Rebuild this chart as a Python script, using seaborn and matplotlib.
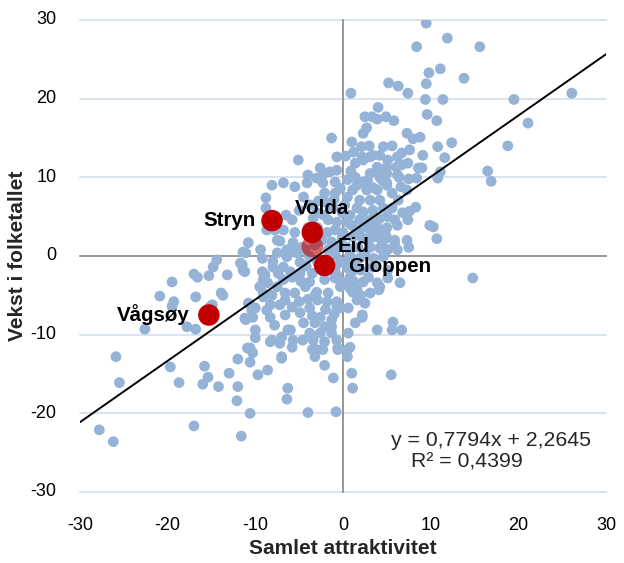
import numpy as np
import pandas as pd
import matplotlib
matplotlib.use("Agg")
import matplotlib.pyplot as plt
import seaborn as sns
from matplotlib.transforms import blended_transform_factory

# ---------------- data (Samlet attraktivitet, Vekst i folketallet) ----------------
far_left = [(-27.8, -22.1), (-26.2, -23.6), (-25.9, -12.8), (-25.5, -16.1), (-22.6, -9.3),
            (-20.9, -5.1), (-19.7, -14.1), (-18.7, -16.1), (-19.5, -3.3), (-19.3, -5.8),
            (-19.5, -6.4), (-17.8, -9.0), (-16.8, -9.3), (-16.8, -5.2), (-17.0, -2.3),
            (-16.6, -2.7), (-15.3, -2.5), (-14.8, -1.4), (-14.4, -0.5), (-13.9, -4.7),
            (-13.7, -5.0), (-14.9, -6.2), (-15.2, -6.5), (-13.2, -2.4), (-11.5, -1.1),
            (-11.2, -2.0), (-11.1, 0.4), (-10.8, 1.7), (-17.0, -21.6), (-11.6, -22.9),
            (-12.1, -18.4), (-12.0, -16.6), (-14.2, -16.6), (-15.4, -15.4), (-16.0, -16.3),
            (-15.8, -14.0), (-13.0, -14.9), (-12.0, -13.1), (-10.9, -11.7), (-10.6, -20.0),
            (-11.1, -8.1), (-11.4, 0.5), (-11.7, -0.9), (-11.4, -1.8), (-10.8, -6.0),
            (-10.4, -6.9), (-10.6, -6.2), (-10.0, -6.6), (-11.2, -7.9), (-10.3, -7.8),
            (-10.6, -11.7), (-10.3, -12.3), (-10.6, -13.5)]

left_center = [(-8.8, 7.4), (-8.8, 6.1), (-8.7, 3.3), (-7.5, 2.0), (-9.4, 0.8), (-9.2, -0.3),
               (-9.2, -2.0), (-9.1, -3.0), (-8.6, -3.4), (-9.1, -5.2), (-8.1, -5.0), (-8.3, -6.2),
               (-7.4, -2.2), (-7.5, -3.9), (-9.5, -3.9), (-9.1, -4.7), (-10.0, -9.4), (-10.0, -10.4),
               (-8.3, -10.9), (-7.0, -10.3), (-6.0, -9.4), (-5.7, -10.7), (-5.8, -11.6), (-9.7, -15.1),
               (-8.6, -14.5), (-7.0, -13.0), (-6.3, -16.8), (-6.4, -18.2), (-8.0, -0.7), (-8.9, -2.4),
               (-6.8, -3.0), (-5.8, -2.7), (-8.7, -6.9), (-8.3, -7.8), (-7.8, -8.8), (-6.6, -5.6),
               (-5.8, -6.5), (-6.3, -9.4), (-8.1, -10.7), (-7.2, -11.1), (-7.0, -12.8), (-5.5, -4.7),
               (-6.6, -4.7), (-6.8, 9.3), (-5.5, 8.8), (-8.1, 9.0), (-5.8, 4.6), (-7.8, 3.3),
               (-6.8, 3.3), (-5.5, 3.0), (-6.4, 0.8), (-5.7, 1.7), (-5.2, 0.4), (-7.5, 0.4),
               (-7.2, 1.9), (-5.1, 12.2), (-6.4, -0.1), (-5.5, 0.5), (-6.8, -1.4), (-8.0, -1.4),
               (-6.6, -7.5), (-7.2, -6.2), (-6.0, -2.0), (-5.0, 5.8), (-6.5, 5.2)]

center_left = [(-4.0, -19.9), (-2.1, -13.9), (-1.1, -15.5), (-3.5, -11.9), (-3.0, -11.9),
               (-0.6, -11.9), (-3.2, -12.8), (-4.9, -2.2), (-3.8, -3.3), (-2.1, -3.0), (-0.9, -2.8),
               (-0.3, -3.9), (-4.9, -7.2), (-3.8, -6.6), (-2.9, -5.6), (-1.8, -5.8), (-0.7, -6.5),
               (-2.6, -7.8), (-1.3, -8.1), (-2.1, -9.0), (-3.2, -8.5), (-3.8, -9.8), (-2.6, -9.8),
               (-1.3, -9.8), (-4.6, -10.7), (-3.4, -10.7), (-2.1, -10.9), (-0.7, -10.7), (-0.6, -11.7),
               (-2.3, -11.9), (-4.3, -3.9), (-3.0, -4.6), (-1.7, -4.7), (-0.7, -5.8), (-0.3, -6.6),
               (-1.3, -9.0), (-0.8, -19.8), (-1.3, 15.0), (-0.7, 12.6), (-4.1, 9.3), (-2.3, 9.3),
               (-2.1, 10.5), (-0.7, 10.9), (-0.9, 9.4), (-4.0, 3.6), (-2.9, 3.6), (-1.8, 3.0),
               (-0.9, 3.3), (0.0, 3.0), (-0.7, 4.3), (-0.1, 5.5), (-1.1, 6.2), (-0.9, 8.0),
               (-0.3, 8.6), (-2.1, 8.0), (-4.7, 1.1), (-1.3, 1.8), (-0.6, 1.1), (-1.7, 0.8),
               (-1.7, 4.6), (-3.4, 4.8), (-0.1, 2.3), (-4.0, 10.3), (-3.0, 9.9), (-2.6, 11.2),
               (-1.5, 10.7), (-4.9, -0.8), (-3.8, -0.1), (-2.9, -0.8), (-4.3, 0.8), (-3.2, 1.4),
               (-2.4, 2.0), (-0.9, 0.1), (-0.3, -0.8), (-0.9, -1.5), (-3.8, 6.5), (-2.8, 7.0),
               (-1.9, 6.8), (-4.5, 7.5), (-3.0, 5.5), (-2.2, 5.2), (-1.0, 7.2), (-1.5, -1.8),
               (-2.2, -2.0), (-3.5, -2.2), (-4.2, -1.3), (-3.2, -5.0), (-4.0, -5.5), (-5.0, -5.8),
               (-2.0, -6.8), (-1.0, -7.4), (-3.5, -7.6), (-4.5, -8.5), (-4.8, -3.2)]

center_right = [(0.9, 20.7), (4.0, 18.9), (2.5, 17.7), (3.3, 17.7), (3.9, 17.4), (4.9, 17.7),
                (5.8, 17.2), (2.7, 16.3), (2.3, 15.6), (1.0, 14.5), (2.1, 13.9), (4.6, 13.9),
                (5.6, 14.0), (6.7, 13.1), (3.4, 12.8), (2.2, 12.6), (0.3, 12.7), (1.4, 11.8),
                (2.3, 12.2), (3.1, 12.6), (4.2, 12.8), (5.1, 12.2), (6.2, 12.6), (0.5, 9.7),
                (1.4, 10.0), (2.3, 9.4), (3.1, 10.5), (3.9, 10.9), (5.0, 10.5), (6.2, 10.3),
                (1.1, 8.4), (2.7, 8.4), (3.9, 8.4), (5.0, 9.3), (5.6, 8.0), (1.9, 7.1), (3.1, 7.1),
                (4.2, 7.1), (1.6, 6.1), (2.3, 5.6), (3.4, 5.8), (4.6, 6.1), (5.6, 6.1), (5.1, 5.0),
                (4.2, 4.8), (3.1, 4.6), (1.9, 4.6), (0.8, 5.2), (1.0, 3.9), (2.2, 3.6), (3.1, 3.3),
                (4.2, 3.3), (5.0, 3.6), (5.0, 2.3), (3.9, 2.4), (3.1, 2.3), (2.2, 2.3), (1.1, 2.4),
                (1.7, 1.1), (3.1, 1.1), (4.2, 1.0), (5.1, 0.8), (6.2, 0.8), (5.9, 2.0), (0.2, 6.5),
                (0.5, 7.5), (0.5, 1.1), (6.7, 11.6), (6.3, 7.1), (6.2, 3.9), (4.8, 2.9), (5.9, 1.4),
                (4.6, -0.1), (3.4, -1.4), (5.1, -1.8), (2.9, -2.7), (3.9, -3.4), (2.3, -3.3),
                (0.8, -2.7), (-0.7, -2.4), (0.0, -3.3), (1.6, -4.3), (6.5, -3.4), (3.1, -4.7),
                (0.8, -4.1), (1.6, -5.6), (2.5, -6.0), (2.2, -7.5), (4.2, -3.9), (5.1, -2.8),
                (5.7, -8.4), (5.6, -9.4), (3.9, -9.4), (1.1, -4.6), (4.1, -4.3), (0.6, -6.6),
                (1.4, -8.5), (2.2, -7.8), (6.7, -9.4), (0.6, -9.8), (0.8, -11.6), (0.5, -12.8),
                (1.0, -14.9), (5.5, -15.1), (1.1, -16.8), (0.5, -11.9), (0.2, -0.8), (0.8, 0.1),
                (0.5, -1.5), (1.4, -1.1), (1.9, -0.3), (1.0, -2.0), (3.4, 8.7), (5.0, 9.0),
                (7.4, 11.8), (3.9, 11.3), (5.0, 11.3), (6.1, 11.3), (4.2, 10.0), (6.4, 10.0),
                (0.9, 10.8), (1.6, 9.0), (2.8, 9.6), (4.5, 9.6), (1.2, 13.2), (3.0, 14.0),
                (6.6, 8.8), (5.9, 4.6), (6.8, 5.5), (0.5, 4.3), (1.5, 3.2), (2.6, 4.2), (3.8, 4.0),
                (4.5, 1.8), (2.5, 0.4), (3.5, -0.3), (2.0, -1.8), (1.2, -3.2), (2.0, -5.0)]

far_right = [(9.5, 29.6), (11.9, 27.7), (8.4, 26.6), (15.6, 26.6), (13.8, 22.6), (5.2, 22.0),
             (6.3, 21.6), (7.4, 20.7), (9.5, 21.9), (9.8, 23.3), (11.1, 23.8), (9.4, 19.9),
             (11.4, 19.9), (9.6, 18.0), (10.7, 17.2), (7.3, 15.6), (8.0, 14.9), (8.8, 15.1),
             (7.6, 13.5), (9.1, 12.8), (10.8, 13.9), (12.4, 14.4), (11.6, 12.5), (8.6, 11.2),
             (11.1, 10.7), (10.8, 9.9), (19.5, 19.9), (26.1, 20.7), (21.1, 16.9), (18.8, 14.0),
             (16.5, 10.8), (16.9, 9.5), (14.8, -2.8), (9.0, 11.2), (8.4, 9.9), (7.3, 8.4),
             (8.3, 6.2), (7.6, 5.7), (7.4, 4.6), (7.3, 2.0), (7.5, 1.1), (9.9, 3.9), (10.3, 3.7),
             (10.7, 2.2), (7.5, 9.8)]

# highlighted municipalities
hl_names = ["Stryn", "Volda", "Eid", "Gloppen", "Vågsøy"]
hl_x = [-8.1, -3.5, -3.5, -2.1, -15.3]
hl_y = [4.5, 3.0, 1.2, -1.2, -7.5]

# trendline (as given in chart)
slope, intercept = 0.7794, 2.2645
eq_text = "y = 0,7794x + 2,2645"
r2_text = "R² = 0,4399"

ticks = [-30, -20, -10, 0, 10, 20, 30]
tick_labels = ["-30", "-20", "-10", "0", "10", "20", "30"]

# ---------------- figure ----------------
sns.set_theme(style="white")
plt.rcParams["font.family"] = ["Liberation Sans", "DejaVu Sans"]

W, H = 624, 563
fig = plt.figure(figsize=(W / 100, H / 100), dpi=100)
L, R, T, B = 80, 606, 20, 492
ax = fig.add_axes([L / W, 1 - B / H, (R - L) / W, (B - T) / H])

df = pd.DataFrame(far_left + left_center + center_left + center_right + far_right,
                  columns=["attr", "vekst"])
hl = pd.DataFrame({"name": hl_names, "attr": hl_x, "vekst": hl_y})

ax.set_xlim(-30, 30)
ax.set_ylim(-30, 30)
ax.set_xticks(ticks)
ax.set_yticks(ticks)

# horizontal gridlines
for t in ticks:
    if t != 0:
        ax.axhline(t, color="#d9e1ef", lw=1.3, zorder=0, clip_on=False)

sns.scatterplot(data=df, x="attr", y="vekst", color="#95b3d7", s=60,
                edgecolor="none", linewidth=0, ax=ax, zorder=3, legend=False)

ax.axline((0, intercept), slope=slope, color="black", lw=1.4, zorder=4)

solid = hl[hl["name"] != "Eid"]
eid = hl[hl["name"] == "Eid"]
sns.scatterplot(data=eid, x="attr", y="vekst", color="#c00000", s=240, alpha=0.6,
                edgecolor="none", linewidth=0, ax=ax, zorder=5, legend=False)
sns.scatterplot(data=solid, x="attr", y="vekst", color="#c00000", s=240,
                edgecolor="none", linewidth=0, ax=ax, zorder=6, legend=False)

# point labels
offsets = {"Stryn": (-12, 0, "right"), "Volda": (7, 17, "center"), "Eid": (18, 0, "left"),
           "Gloppen": (17, -1, "left"), "Vågsøy": (-14, 0, "right")}
for n, x, y in zip(hl_names, hl_x, hl_y):
    dx, dy, ha = offsets[n]
    ax.annotate(n, (x, y), xytext=(dx, dy), textcoords="offset points", ha=ha, va="center",
                fontsize=14.8, fontweight="bold", color="black", zorder=7)

# axes through zero
for side in ["top", "right"]:
    ax.spines[side].set_visible(False)
for side in ["left", "bottom"]:
    ax.spines[side].set_position(("data", 0))
    ax.spines[side].set_color("#868686")
    ax.spines[side].set_linewidth(1.2)
    ax.spines[side].set_zorder(2)
ax.tick_params(axis="both", direction="out", length=4, width=1.2, color="#868686",
               labelleft=False, labelbottom=False)
ax.set_xlabel("")
ax.set_ylabel("")
ax.grid(False)

# tick labels at figure edges
ty = blended_transform_factory(ax.transAxes, ax.transData)
tx = blended_transform_factory(ax.transData, ax.transAxes)
for t, lab in zip(ticks, tick_labels):
    ax.annotate(lab, (0, t), xycoords=ty, xytext=(-17, 0), textcoords="offset points",
                ha="right", va="center", fontsize=13, color="black", annotation_clip=False)
    ax.annotate(lab, (t, 0), xycoords=tx, xytext=(0, -24), textcoords="offset points",
                ha="center", va="center", fontsize=13, color="black", annotation_clip=False)

fig.text(343 / W, 1 - 549 / H, "Samlet attraktivitet", ha="center", va="center",
         fontsize=15, fontweight="bold")
fig.text(18 / W, 1 - 256 / H, "Vekst i folketallet", ha="center", va="center",
         rotation=90, fontsize=15, fontweight="bold")

fig.text(491 / W, 1 - 440 / H, eq_text, ha="center", va="center", fontsize=15.3)
fig.text(467 / W, 1 - 462 / H, r2_text, ha="center", va="center", fontsize=15.3)

fig.savefig("out.png", dpi=100, facecolor="white")
